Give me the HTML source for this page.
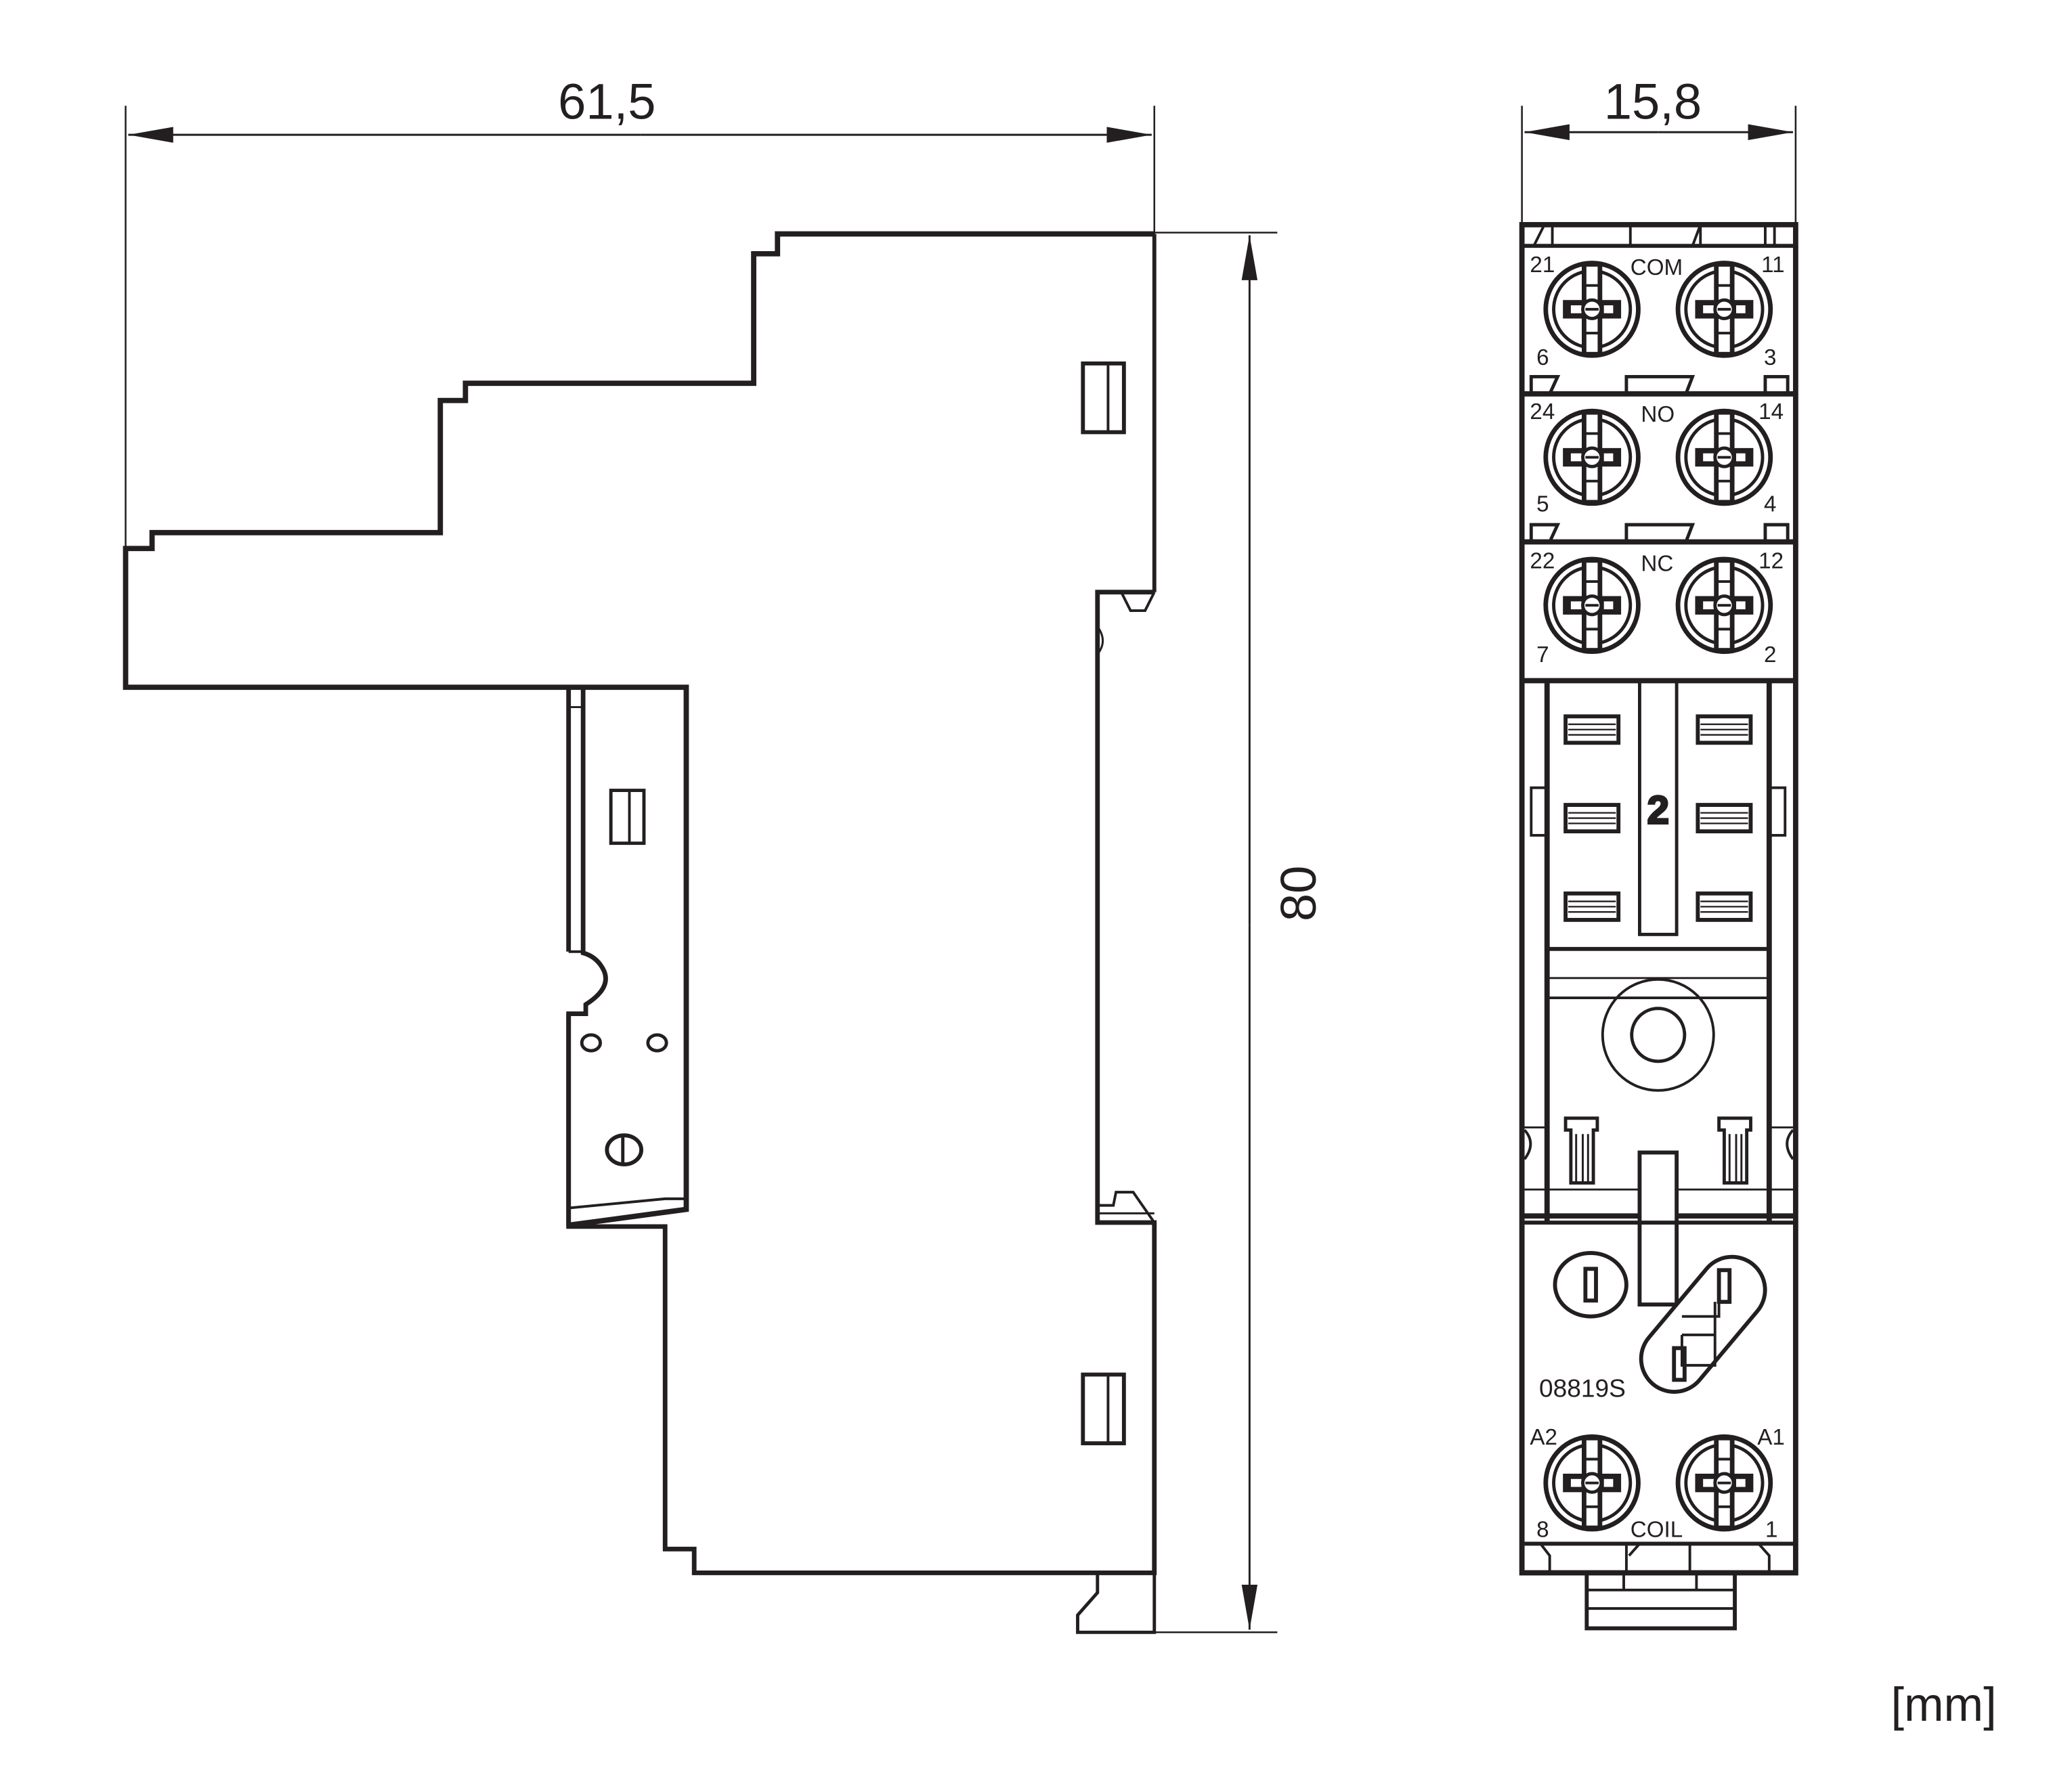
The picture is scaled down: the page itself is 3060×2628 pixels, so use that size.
<!DOCTYPE html>
<html><head><meta charset="utf-8"><style>
html,body{margin:0;padding:0;background:#fff}
svg{display:block}
text{font-family:"Liberation Sans",sans-serif;fill:#231f20}
</style></head><body>
<svg width="3060" height="2628" viewBox="0 0 1567 1346" preserveAspectRatio="none" xmlns="http://www.w3.org/2000/svg">
<defs>
<g id="scr">
<circle r="35" fill="#fff" stroke="#231f20" stroke-width="3.5"/>
<circle r="29" fill="none" stroke="#231f20" stroke-width="2.5"/>
<rect x="-6" y="-34" width="12" height="68" fill="#fff" stroke="#231f20" stroke-width="3.5"/>
<line x1="-6" y1="-18" x2="6" y2="-18" stroke="#231f20" stroke-width="2"/>
<line x1="-6" y1="18" x2="6" y2="18" stroke="#231f20" stroke-width="2"/>
<rect x="-22" y="-7" width="44" height="14" fill="#231f20"/>
<rect x="-16" y="-3" width="8" height="6" fill="#fff"/>
<rect x="9" y="-3" width="7" height="6" fill="#fff"/>
<circle r="7" fill="#fff" stroke="#231f20" stroke-width="2.5"/>
<line x1="-5" y1="0" x2="5" y2="0" stroke="#231f20" stroke-width="2"/>
</g>
<g id="grill">
<rect x="-20" y="-10" width="40" height="20" fill="#fff" stroke="#231f20" stroke-width="3"/>
<line x1="-18" y1="-4" x2="18" y2="-4" stroke="#231f20" stroke-width="1.2"/>
<line x1="-18" y1="0" x2="18" y2="0" stroke="#231f20" stroke-width="1.2"/>
<line x1="-18" y1="4" x2="18" y2="4" stroke="#231f20" stroke-width="1.2"/>
</g>
<marker id="ar" markerWidth="34" markerHeight="12" refX="34" refY="6" orient="auto" markerUnits="userSpaceOnUse">
<path d="M0,0 L34,6 L0,12 Z" fill="#231f20"/></marker>
</defs>

<g stroke="#231f20" fill="none">
<line x1="95" y1="80" x2="95" y2="415" stroke-width="1.3"/>
<line x1="873" y1="80" x2="873" y2="177" stroke-width="1.3"/>
<line x1="484" y1="102" x2="97" y2="102" stroke-width="1.5" marker-end="url(#ar)"/>
<line x1="484" y1="102" x2="871" y2="102" stroke-width="1.5" marker-end="url(#ar)"/>
<line x1="873" y1="176" x2="966" y2="176" stroke-width="1.3"/>
<line x1="873" y1="1235" x2="966" y2="1235" stroke-width="1.3"/>
<line x1="945" y1="700" x2="945" y2="178" stroke-width="1.5" marker-end="url(#ar)"/>
<line x1="945" y1="700" x2="945" y2="1233" stroke-width="1.5" marker-end="url(#ar)"/>
<line x1="1151" y1="80" x2="1151" y2="170" stroke-width="1.3"/>
<line x1="1358" y1="80" x2="1358" y2="170" stroke-width="1.3"/>
<line x1="1254" y1="100" x2="1153" y2="100" stroke-width="1.5" marker-end="url(#ar)"/>
<line x1="1254" y1="100" x2="1356" y2="100" stroke-width="1.5" marker-end="url(#ar)"/>

<path d="M873,177 L588,177 L588,192 L570,192 L570,290 L352,290 L352,303 L333,303 L333,403 L115,403 L115,415 L95,415 L95,520 L519,520 L519,915 L430,927" stroke-width="4"/>
<line x1="873" y1="177" x2="873" y2="448" stroke-width="3"/>
<path d="M873,448 L830,448 L830,925 L873,925 L873,1190 L525,1190 L525,1172 L503,1172 L503,928 L430,928 L430,767 L443,767 L443,760 Q462,748 457,735 Q452,724 441,721 L441,520 L430,520 L430,720" stroke-width="3.5"/>
<line x1="430" y1="720" x2="441" y2="720" stroke-width="2"/>
<line x1="430" y1="535" x2="441" y2="535" stroke-width="1.5"/>
<path d="M430,928 L430,767" stroke-width="3.5"/>
<path d="M430,914 L503,907 L519,907" stroke-width="2"/>
<path d="M848,448 L855,462 L866,462 L873,448" stroke-width="2"/>
<path d="M830,474 Q838,485 830,495" stroke-width="1.5"/>
<path d="M830,912 L842,912 L844,902 L857,902 L873,925" stroke-width="2"/>
<path d="M830,918 L873,918" stroke-width="1.5"/>
<path d="M873,1190 L873,1235 L815,1235 L815,1222 L830,1205 L830,1190" stroke-width="2.5"/>
<rect x="819" y="275" width="31" height="52" stroke-width="3"/>
<line x1="838" y1="275" x2="838" y2="327" stroke-width="2"/>
<rect x="819" y="1040" width="31" height="52" stroke-width="3"/>
<line x1="838" y1="1040" x2="838" y2="1092" stroke-width="2"/>
<rect x="462" y="598" width="25" height="40" stroke-width="2.5"/>
<line x1="476" y1="598" x2="476" y2="638" stroke-width="2"/>
<ellipse cx="447" cy="789" rx="7" ry="6" stroke-width="2.5"/>
<ellipse cx="497" cy="789" rx="7" ry="6" stroke-width="2.5"/>
<ellipse cx="472" cy="870" rx="13" ry="11" stroke-width="3"/>
<line x1="471" y1="859" x2="471" y2="881" stroke-width="2.5"/>

<rect x="1151" y="170" width="207" height="1020" stroke-width="4"/>
<line x1="1151" y1="186" x2="1358" y2="186" stroke-width="3"/>
<path d="M1160,186 L1168,170 L1174,170 L1174,186 M1233,170 L1233,186 L1240,186 M1280,186 L1286,170 L1286,186 M1335,170 L1335,186 L1342,186 L1342,170" stroke-width="2"/>
<line x1="1151" y1="298" x2="1358" y2="298" stroke-width="4"/>
<line x1="1151" y1="410" x2="1358" y2="410" stroke-width="4"/>
<line x1="1151" y1="515" x2="1358" y2="515" stroke-width="4"/>
<path d="M1158,298 L1158,285 L1178,285 L1172,298 M1230,298 L1230,285 L1280,285 L1275,298 M1335,298 L1335,285 L1352,285 L1352,298" stroke-width="2.5"/>
<path d="M1158,410 L1158,397 L1178,397 L1172,410 M1230,410 L1230,397 L1280,397 L1275,410 M1335,410 L1335,397 L1352,397 L1352,410" stroke-width="2.5"/>
<line x1="1170" y1="515" x2="1170" y2="925" stroke-width="4"/>
<line x1="1338" y1="515" x2="1338" y2="925" stroke-width="4"/>
<line x1="1170" y1="718" x2="1338" y2="718" stroke-width="3"/>
<line x1="1170" y1="740" x2="1338" y2="740" stroke-width="1.5"/>
<line x1="1170" y1="755" x2="1338" y2="755" stroke-width="2"/>
<rect x="1240" y="515" width="28" height="192" stroke-width="2.5"/>
<rect x="1158" y="596" width="12" height="36" stroke-width="2"/>
<rect x="1338" y="596" width="12" height="36" stroke-width="2"/>
<line x1="1151" y1="920" x2="1358" y2="920" stroke-width="4"/>
<line x1="1151" y1="900" x2="1358" y2="900" stroke-width="1.5"/>
<line x1="1151" y1="853" x2="1170" y2="853" stroke-width="1.5"/>
<line x1="1338" y1="853" x2="1358" y2="853" stroke-width="1.5"/>
<path d="M1153,855 Q1162,865 1153,877 M1356,855 Q1347,865 1356,877" stroke-width="2"/>
<ellipse cx="1254" cy="783" rx="42" ry="42" stroke-width="2"/>
<circle cx="1254" cy="783" r="20" stroke-width="2.5"/>
<path d="M1184,846 L1208,846 L1208,855 L1205,855 L1205,895 L1188,895 L1188,855 L1184,855 Z" stroke-width="2.5"/>
<path d="M1192,858 L1192,895 M1197,858 L1197,895 M1201,858 L1201,895" stroke-width="1.5"/>
<path d="M1300,846 L1324,846 L1324,855 L1321,855 L1321,895 L1304,895 L1304,855 L1300,855 Z" stroke-width="2.5"/>
<path d="M1308,858 L1308,895 M1313,858 L1313,895 M1317,858 L1317,895" stroke-width="1.5"/>
<rect x="1240" y="872" width="28" height="115" fill="#fff" stroke-width="3"/>
<line x1="1151" y1="925" x2="1358" y2="925" stroke-width="3"/>
<ellipse cx="1203" cy="972" rx="27" ry="24" stroke-width="3"/>
<rect x="1199" y="960" width="8" height="24" stroke-width="3"/>
<g transform="rotate(-50 1288 1002)"><rect x="1229" y="977" width="118" height="50" rx="25" fill="#fff" stroke-width="3"/></g>
<path d="M1272,1010 L1272,1033 L1297,1033 L1297,985 M1272,1010 L1297,1010 M1272,996 L1300,996 L1300,985" stroke-width="2"/>
<rect x="1300" y="961" width="8" height="24" stroke-width="3"/>
<rect x="1266" y="1020" width="8" height="24" stroke-width="3"/>
<line x1="1151" y1="1168" x2="1358" y2="1168" stroke-width="3"/>
<path d="M1165,1168 L1172,1177 L1172,1190 M1230,1168 L1230,1190 M1240,1168 L1232,1177 M1278,1168 L1278,1190 M1330,1168 L1338,1177 L1338,1190" stroke-width="2"/>
<rect x="1200" y="1190" width="112" height="42" stroke-width="3"/>
<line x1="1200" y1="1203" x2="1312" y2="1203" stroke-width="2"/>
<line x1="1200" y1="1217" x2="1312" y2="1217" stroke-width="2"/>
<line x1="1228" y1="1190" x2="1228" y2="1203" stroke-width="2"/>
<line x1="1283" y1="1190" x2="1283" y2="1203" stroke-width="2"/>
</g>

<use href="#scr" x="1204" y="234"/><use href="#scr" x="1304" y="234"/>
<use href="#scr" x="1204" y="346"/><use href="#scr" x="1304" y="346"/>
<use href="#scr" x="1204" y="458"/><use href="#scr" x="1304" y="458"/>
<use href="#scr" x="1204" y="1122"/><use href="#scr" x="1304" y="1122"/>

<use href="#grill" x="1204" y="552"/><use href="#grill" x="1304" y="552"/>
<use href="#grill" x="1204" y="619"/><use href="#grill" x="1304" y="619"/>
<use href="#grill" x="1204" y="686"/><use href="#grill" x="1304" y="686"/>

<text x="459" y="90" font-size="38" text-anchor="middle">61,5</text>
<text x="1250" y="90" font-size="38" text-anchor="middle">15,8</text>
<text transform="translate(995,676) rotate(-90)" font-size="38" text-anchor="middle">80</text>
<text x="1470" y="1302" font-size="36" text-anchor="middle">[mm]</text>

<g font-size="17">
<text x="1157" y="206">21</text><text x="1233" y="208">COM</text><text x="1332" y="206">11</text>
<text x="1162" y="276">6</text><text x="1334" y="276">3</text>
<text x="1157" y="317">24</text><text x="1241" y="319">NO</text><text x="1330" y="317">14</text>
<text x="1162" y="387">5</text><text x="1334" y="387">4</text>
<text x="1157" y="430">22</text><text x="1241" y="432">NC</text><text x="1330" y="430">12</text>
<text x="1162" y="501">7</text><text x="1334" y="501">2</text>
<text x="1157" y="1093">A2</text><text x="1329" y="1093">A1</text>
<text x="1162" y="1163">8</text><text x="1233" y="1163">COIL</text><text x="1335" y="1163">1</text>
</g>
<text x="1164" y="1057" font-size="19">08819S</text>
<text x="1254" y="623" font-size="30" font-weight="bold" text-anchor="middle" fill="#fff" stroke="#231f20" stroke-width="1.5">2</text>
</svg>
</body></html>
